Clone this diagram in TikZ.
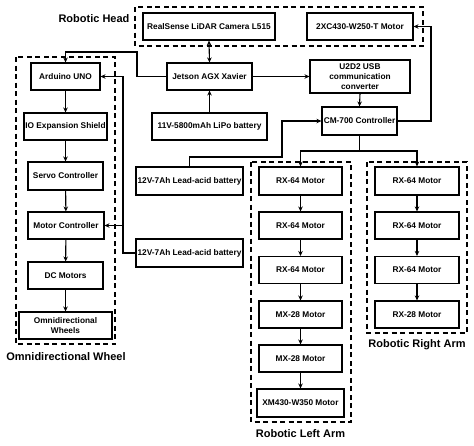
\documentclass[tikz,border=0pt]{standalone}
\usepackage{fontspec}
\setmainfont{Liberation Sans}
\usetikzlibrary{arrows.meta}
\begin{document}
\begin{tikzpicture}[x=1pt,y=-1pt,
  box/.style={draw, line width=1.1pt, font=\bfseries\fontsize{8.3}{10}\selectfont, minimum height=27pt, align=center, inner sep=1pt},
  grp/.style={draw, line width=1.8pt, dash pattern=on 5pt off 3.5pt},
  lbl/.style={font=\bfseries\fontsize{11}{13}\selectfont},
  conn/.style={line width=1.1pt},
  arr/.style={conn, -{Stealth[length=5pt,width=4.5pt]}},
  darr/.style={conn, {Stealth[length=5pt,width=4.5pt]}-{Stealth[length=5pt,width=4.5pt]}}]
\useasboundingbox[fill=white] (0,0) rectangle (474,445);
% group frames
\draw[grp] (135,7) rectangle (423,46);
\draw[grp] (16,57) rectangle (115,344);
\draw[grp] (251,162) rectangle (351,422);
\draw[grp] (367,162) rectangle (467,333);
% labels
\node[lbl] (lh) at (94,19) {Robotic Head};
\node[lbl] (lo) at (66,357) {Omnidirectional Wheel};
\node[lbl] (ll) at (300.5,434) {Robotic Left Arm};
\node[lbl] (lr) at (417,345) {Robotic Right Arm};
% head / center
\node[box, minimum width=132pt] (rs) at (209,26.5) {RealSense LiDAR Camera L515};
\node[box, minimum width=106pt] (mot) at (360,26.5) {2XC430-W250-T Motor};
\node[box, minimum width=85pt] (jet) at (209.5,76.5) {Jetson AGX Xavier};
\node[box, minimum width=100pt, minimum height=33pt, inner sep=0pt] (u2d2) at (360,76.5) {U2D2 USB\\communication\\converter};
\node[box, minimum width=115pt] (lipo) at (209.5,126.5) {11V-5800mAh LiPo battery};
\node[box, minimum width=75pt, minimum height=28pt] (cm) at (359.5,121) {CM-700 Controller};
\node[box, minimum width=107pt, minimum height=28pt] (bat1) at (189.5,181) {12V-7Ah Lead-acid battery};
\node[box, minimum width=107pt, minimum height=28pt] (bat2) at (189.5,253) {12V-7Ah Lead-acid battery};
% omni column
\node[box, minimum width=69pt] (ard) at (65.5,76.5) {Arduino UNO};
\node[box, minimum width=83pt] (io) at (65.5,126.5) {IO Expansion Shield};
\node[box, minimum width=75pt, minimum height=28pt] (servo) at (65.5,176) {Servo Controller};
\node[box, minimum width=76pt] (mc) at (66,225.5) {Motor Controller};
\node[box, minimum width=75pt] (dc) at (65.5,275.5) {DC Motors};
\node[box, minimum width=93pt] (ow) at (65.5,325.5) {Omnidirectional\\Wheels};
% left arm
\node[box, minimum width=83pt, minimum height=28pt] (l1) at (300.5,181) {RX-64 Motor};
\node[box, minimum width=83pt] (l2) at (300.5,225.5) {RX-64 Motor};
\node[box, minimum width=83pt] (l3) at (300.5,270) {RX-64 Motor};
\node[box, minimum width=83pt] (l4) at (300.5,314.5) {MX-28 Motor};
\node[box, minimum width=83pt] (l5) at (300.5,358.5) {MX-28 Motor};
\node[box, minimum width=87pt, minimum height=28pt] (l6) at (300.5,403) {XM430-W350 Motor};
% right arm
\node[box, minimum width=84pt, minimum height=28pt] (r1) at (417,181) {RX-64 Motor};
\node[box, minimum width=84pt] (r2) at (417,225.5) {RX-64 Motor};
\node[box, minimum width=84pt] (r3) at (417,270) {RX-64 Motor};
\node[box, minimum width=84pt] (r4) at (417,314.5) {RX-28 Motor};
% helper coordinates
\coordinate (c1) at (137,52);
\coordinate (c2) at (431,26.5);
\coordinate (c3) at (282,157);
\coordinate (c4) at (359.5,151);
\coordinate (c6) at (123,76.5);
\coordinate (c7) at (123,225.5);
% connectors
\draw[darr] (rs.south) -- (jet.north);
\draw[arr] (jet.west) -| (c1) -| (ard.north);
\draw[arr] (lipo.north) -- (jet.south);
\draw[arr] (jet.east) -- (u2d2.west);
\draw[arr] (u2d2.south) -- (cm.north);
\draw[arr] (cm.east) -| (c2) -- (mot.east);
\draw[arr] (bat1.north) |- (c3) |- (cm.west);
\draw[conn] (cm.south) -- (c4);
\draw[arr] (c4) -| (l1.north);
\draw[arr] (c4) -| (r1.north);
\draw[arr] (bat2.west) -| (c6) -- (ard.east);
\draw[arr] (c7) -- (mc.east);
\draw[arr] (ard) -- (io);
\draw[arr] (io) -- (servo);
\draw[arr] (servo) -- (mc);
\draw[arr] (mc) -- (dc);
\draw[arr] (dc) -- (ow);
\draw[arr] (l1) -- (l2);
\draw[arr] (l2) -- (l3);
\draw[arr] (l3) -- (l4);
\draw[arr] (l4) -- (l5);
\draw[arr] (l5) -- (l6);
\draw[arr] (r1) -- (r2);
\draw[arr] (r2) -- (r3);
\draw[arr] (r3) -- (r4);
\end{tikzpicture}
\end{document}
